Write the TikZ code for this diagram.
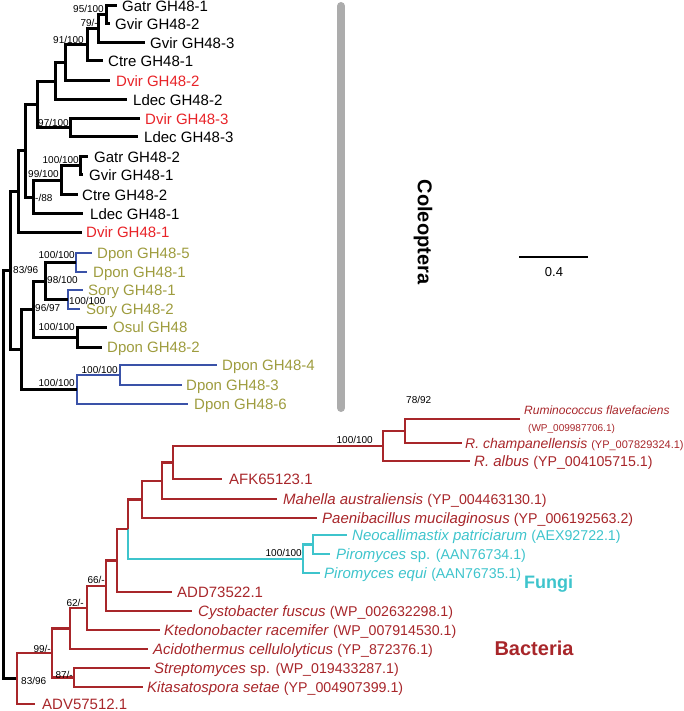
\documentclass[tikz,border=0pt]{standalone}
\usepackage{fontspec}
\setmainfont{Liberation Sans}
\definecolor{dvred}{RGB}{232,35,40}
\definecolor{bred}{RGB}{168,38,42}
\definecolor{olivec}{RGB}{158,156,62}
\definecolor{cladeblue}{RGB}{58,82,168}
\definecolor{fcyan}{RGB}{62,196,204}
\definecolor{bargray}{RGB}{172,172,172}
\newcommand{\accn}[1]{{\upshape\fontsize{14.2}{17}\selectfont #1}}
\begin{document}
\begin{tikzpicture}[x=1pt,y={(0pt,-1pt)},
  br/.style={line width=3pt, line join=miter, black},
  bbr/.style={line width=2.3pt, line join=miter, cladeblue},
  rbr/.style={line width=2.6pt, line join=miter, bred},
  cbr/.style={line width=2.5pt, line join=miter, fcyan},
  leaf/.style={anchor=base west, inner sep=0pt, yshift=-5.4pt, font=\fontsize{15}{18}\selectfont},
  sup/.style={inner sep=0pt, font=\fontsize{10}{12}\selectfont},
  clade/.style={inner sep=0pt, font=\fontsize{20}{24}\selectfont\bfseries}]
\useasboundingbox (0,0) rectangle (684,711);
% ---------- Coleoptera internal nodes ----------
\coordinate (ngg1) at (106,15);
\coordinate (ngv3) at (98,29);
\coordinate (nct1) at (87,45);
\coordinate (ndv2) at (65,63);
\coordinate (nld2) at (55,81.5);
\coordinate (ndl3) at (70,128);
\coordinate (nc1) at (37,104.75);
\coordinate (ngg2) at (80,166);
\coordinate (nct2) at (61,180.5);
\coordinate (nc2) at (33,197.25);
\coordinate (nb) at (25,151);
\coordinate (na) at (18,191.5);
\coordinate (ndp51) at (76,262.5);
\coordinate (nsory) at (68,299.5);
\coordinate (nb1a) at (45,281);
\coordinate (nod) at (77,337);
\coordinate (nb1) at (33,309);
\coordinate (nd43) at (120,375);
\coordinate (nb2) at (77,389.5);
\coordinate (nbb) at (21,349.25);
\coordinate (ncol) at (10,270.4);
\coordinate (nroot) at (3,475);
% ---------- Coleoptera tips ----------
\coordinate (tgatr1) at (117,6);
\coordinate (tgvir2) at (110,24);
\coordinate (tgvir3) at (145,43);
\coordinate (tctre1) at (103,61);
\coordinate (tdvir2) at (110,81);
\coordinate (tldec2) at (127,100);
\coordinate (tdvir3) at (140,119);
\coordinate (tldec3) at (138,137);
\coordinate (tgatr2) at (88,157);
\coordinate (tgvir1) at (83,175);
\coordinate (tctre2) at (78,195);
\coordinate (tldec1) at (83,214);
\coordinate (tdvir1) at (82,232);
\coordinate (tdpon5) at (92,253);
\coordinate (tdpon1) at (87,272);
\coordinate (tsory1) at (83,290);
\coordinate (tsory2) at (80,309);
\coordinate (tosul) at (107,327);
\coordinate (tdpon2) at (102,347);
\coordinate (tdpon4) at (217,365);
\coordinate (tdpon3) at (182,385);
\coordinate (tdpon6) at (188,404);
% ---------- Bacteria / fungi nodes ----------
\coordinate (nrum) at (405,431);
\coordinate (nm) at (383,446);
\coordinate (nl) at (173,462.5);
\coordinate (nk) at (162,481);
\coordinate (nj) at (142,499.5);
\coordinate (nnp) at (313,544.5);
\coordinate (nfun) at (303,558.75);
\coordinate (ni) at (128,529);
\coordinate (nh) at (117,560.5);
\coordinate (ng) at (106,585.8);
\coordinate (nf) at (87,608);
\coordinate (ne) at (70,628.5);
\coordinate (nsk) at (74,677.5);
\coordinate (nd) at (52,653);
\coordinate (nbact) at (17,678.5);
% tips
\coordinate (trflav) at (520,419);
\coordinate (trchamp) at (462,443);
\coordinate (tralbus) at (470,461);
\coordinate (tafk) at (222,479);
\coordinate (tmah) at (277,499);
\coordinate (tpae) at (317,518);
\coordinate (tneo) at (347,535);
\coordinate (tpsp) at (330,554);
\coordinate (tpeq) at (320,573);
\coordinate (tadd) at (172,592);
\coordinate (tcys) at (192,611);
\coordinate (tkte) at (160,630);
\coordinate (taci) at (148,649);
\coordinate (tstr) at (150,668);
\coordinate (tkit) at (143,687);
\coordinate (tadv) at (35,704);
% ---------- gray bar and scale ----------
\coordinate (bartop) at (341,6);
\coordinate (barbot) at (341,408);
\draw[line width=8pt, bargray, line cap=round] (bartop) -- (barbot);
\coordinate (sba) at (519,257);
\coordinate (sbb) at (588,257);
\draw[line width=2.7pt] (sba) -- (sbb);
\node[inner sep=0pt, font=\fontsize{13}{15}\selectfont] (sblab) at (554,272) {0.4};
% ---------- Coleoptera branches ----------
\draw[br] (ngg1) |- (tgatr1);
\draw[br] (ngg1) |- (tgvir2);
\draw[br] (ngv3) |- (ngg1);
\draw[br] (ngv3) |- (tgvir3);
\draw[br] (nct1) |- (ngv3);
\draw[br] (nct1) |- (tctre1);
\draw[br] (ndv2) |- (nct1);
\draw[br] (ndv2) |- (tdvir2);
\draw[br] (nld2) |- (ndv2);
\draw[br] (nld2) |- (tldec2);
\draw[br] (ndl3) |- (tdvir3);
\draw[br] (ndl3) |- (tldec3);
\draw[br] (nc1) |- (nld2);
\draw[br] (nc1) |- (ndl3);
\draw[br] (ngg2) |- (tgatr2);
\draw[br] (ngg2) |- (tgvir1);
\draw[br] (nct2) |- (ngg2);
\draw[br] (nct2) |- (tctre2);
\draw[br] (nc2) |- (nct2);
\draw[br] (nc2) |- (tldec1);
\draw[br] (nb) |- (nc1);
\draw[br] (nb) |- (nc2);
\draw[br] (na) |- (nb);
\draw[br] (na) |- (tdvir1);
\draw[bbr] (ndp51) |- (tdpon5);
\draw[bbr] (ndp51) |- (tdpon1);
\draw[bbr] (nsory) |- (tsory1);
\draw[bbr] (nsory) |- (tsory2);
\draw[br] (nb1a) |- (ndp51);
\draw[br] (nb1a) |- (nsory);
\draw[br] (nod) |- (tosul);
\draw[br] (nod) |- (tdpon2);
\draw[br] (nb1) |- (nb1a);
\draw[br] (nb1) |- (nod);
\draw[bbr] (nd43) |- (tdpon4);
\draw[bbr] (nd43) |- (tdpon3);
\draw[bbr] (nb2) |- (nd43);
\draw[bbr] (nb2) |- (tdpon6);
\draw[br] (nbb) |- (nb1);
\draw[br] (nbb) |- (nb2);
\draw[br] (ncol) |- (na);
\draw[br] (ncol) |- (nbb);
\draw[br] (nroot) |- (ncol);
\draw[br] (nroot) |- (nbact);
% ---------- Bacteria branches ----------
\draw[rbr] (nrum) |- (trflav);
\draw[rbr] (nrum) |- (trchamp);
\draw[rbr] (nm) |- (nrum);
\draw[rbr] (nm) |- (tralbus);
\draw[rbr] (nl) |- (nm);
\draw[rbr] (nl) |- (tafk);
\draw[rbr] (nk) |- (nl);
\draw[rbr] (nk) |- (tmah);
\draw[rbr] (nj) |- (nk);
\draw[rbr] (nj) |- (tpae);
\draw[cbr] (nnp) |- (tneo);
\draw[cbr] (nnp) |- (tpsp);
\draw[cbr] (nfun) |- (nnp);
\draw[cbr] (nfun) |- (tpeq);
\draw[rbr] (ni) |- (nj);
\draw[cbr] (ni) |- (nfun);
\draw[rbr] (nh) |- (ni);
\draw[rbr] (nh) |- (tadd);
\draw[rbr] (ng) |- (nh);
\draw[rbr] (ng) |- (tcys);
\draw[rbr] (nf) |- (ng);
\draw[rbr] (nf) |- (tkte);
\draw[rbr] (ne) |- (nf);
\draw[rbr] (ne) |- (taci);
\draw[rbr] (nsk) |- (tstr);
\draw[rbr] (nsk) |- (tkit);
\draw[rbr] (nd) |- (ne);
\draw[rbr] (nd) |- (nsk);
\draw[rbr] (nbact) |- (nd);
\draw[rbr] (nbact) |- (tadv);
% ---------- Coleoptera labels ----------
\node[leaf] (lgatr1) at (122,6) {Gatr GH48-1};
\node[leaf] (lgvir2) at (115,24) {Gvir GH48-2};
\node[leaf] (lgvir3) at (150,43) {Gvir GH48-3};
\node[leaf] (lctre1) at (108,61) {Ctre GH48-1};
\node[leaf, dvred] (ldvir2) at (116,81) {Dvir GH48-2};
\node[leaf] (lldec2) at (133,100) {Ldec GH48-2};
\node[leaf, dvred] (ldvir3) at (145,119) {Dvir GH48-3};
\node[leaf] (lldec3) at (144,137) {Ldec GH48-3};
\node[leaf] (lgatr2) at (94,157) {Gatr GH48-2};
\node[leaf] (lgvir1) at (89,175) {Gvir GH48-1};
\node[leaf] (lctre2) at (82,195) {Ctre GH48-2};
\node[leaf] (lldec1) at (90,214) {Ldec GH48-1};
\node[leaf, dvred] (ldvir1) at (86,232) {Dvir GH48-1};
\node[leaf, olivec] (ldpon5) at (97,253) {Dpon GH48-5};
\node[leaf, olivec] (ldpon1) at (93,272) {Dpon GH48-1};
\node[leaf, olivec] (lsory1) at (88,290) {Sory GH48-1};
\node[leaf, olivec] (lsory2) at (86,309) {Sory GH48-2};
\node[leaf, olivec] (losul) at (113,327) {Osul GH48};
\node[leaf, olivec] (ldpon2) at (107,347) {Dpon GH48-2};
\node[leaf, olivec] (ldpon4) at (222,365) {Dpon GH48-4};
\node[leaf, olivec] (ldpon3) at (186,385) {Dpon GH48-3};
\node[leaf, olivec] (ldpon6) at (194,404) {Dpon GH48-6};
% support values (Coleoptera)
\node[sup, anchor=east] (s1) at (104,9) {95/100};
\node[sup, anchor=east] (s2) at (98,23) {79/-};
\node[sup, anchor=east] (s3) at (84,40) {91/100};
\node[sup, anchor=east] (s4) at (69,123) {97/100};
\node[sup, anchor=east] (s5) at (79,160) {100/100};
\node[sup, anchor=east] (s6) at (59,174) {99/100};
\node[sup, anchor=west] (s7) at (35,198) {-/88};
\node[sup, anchor=west] (s8) at (13,270) {83/96};
\node[sup, anchor=east] (s9) at (75,255) {100/100};
\node[sup, anchor=west] (s10) at (47,280) {98/100};
\node[sup, anchor=west] (s11) at (69,301) {100/100};
\node[sup, anchor=west] (s12) at (35,308) {96/97};
\node[sup, anchor=east] (s13) at (75,327) {100/100};
\node[sup, anchor=east] (s14) at (118,370) {100/100};
\node[sup, anchor=east] (s15) at (75,383) {100/100};
% ---------- Bacteria labels ----------
\node[leaf, bred, font=\fontsize{12}{14}\selectfont, yshift=1.1pt] (lrflav) at (524,410) {\itshape Ruminococcus flavefaciens};
\node[leaf, bred, font=\fontsize{10}{12}\selectfont, yshift=1.8pt] (lrflav2) at (528,428) {(WP\_009987706.1)};
\node[leaf, bred, font=\fontsize{14}{16}\selectfont, yshift=0.4pt] (lrchamp) at (465,443) {\itshape R. champanellensis\/ \fontsize{11}{13}\selectfont\upshape(YP\_007829324.1)};
\node[leaf, bred] (lralbus) at (474,461) {\itshape R. albus\/ \accn{(YP\_004105715.1)}};
\node[leaf, bred] (lafk) at (229,479) {AFK65123.1};
\node[leaf, bred] (lmah) at (283,499) {\itshape Mahella australiensis\/ \accn{(YP\_004463130.1)}};
\node[leaf, bred] (lpae) at (322,518) {\itshape Paenibacillus mucilaginosus\/ \accn{(YP\_006192563.2)}};
\node[leaf, fcyan] (lneo) at (352,535) {\itshape Neocallimastix patriciarum\/ \accn{(AEX92722.1)}};
\node[leaf, fcyan] (lpsp) at (336,554) {\itshape Piromyces\/ \upshape sp. \accn{(AAN76734.1)}};
\node[leaf, fcyan] (lpeq) at (324,573) {\itshape Piromyces equi\/ \accn{(AAN76735.1)}};
\node[leaf, bred] (ladd) at (177,592) {ADD73522.1};
\node[leaf, bred] (lcys) at (198,611) {\itshape Cystobacter fuscus\/ \accn{(WP\_002632298.1)}};
\node[leaf, bred] (lkte) at (164,630) {\itshape Ktedonobacter racemifer\/ \accn{(WP\_007914530.1)}};
\node[leaf, bred] (laci) at (153,649) {\itshape Acidothermus cellulolyticus\/ \accn{(YP\_872376.1)}};
\node[leaf, bred] (lstr) at (154,668) {\itshape Streptomyces\/ \upshape sp. \accn{(WP\_019433287.1)}};
\node[leaf, bred] (lkit) at (147,687) {\itshape Kitasatospora setae\/ \accn{(YP\_004907399.1)}};
\node[leaf, bred] (ladv) at (42,704) {ADV57512.1};
% support values (Bacteria)
\node[sup, anchor=east] (b1) at (373,440) {100/100};
\node[sup, anchor=west] (b2) at (406,400) {78/92};
\node[sup, anchor=east] (b3) at (302,553) {100/100};
\node[sup, anchor=east] (b4) at (105,580) {66/-};
\node[sup, anchor=east] (b5) at (84,603) {62/-};
\node[sup, anchor=east] (b6) at (51,649) {99/-};
\node[sup, anchor=east] (b7) at (73,675) {87/-};
\node[sup, anchor=west] (b8) at (21,681) {83/96};
% ---------- clade names ----------
\node[clade, rotate=-90] (colname) at (423,232) {Coleoptera};
\node[clade, fcyan, font=\fontsize{18}{22}\selectfont\bfseries, anchor=west] (fungname) at (524,584) {Fungi};
\node[clade, bred] (bactname) at (534,648) {Bacteria};
\end{tikzpicture}
\end{document}
